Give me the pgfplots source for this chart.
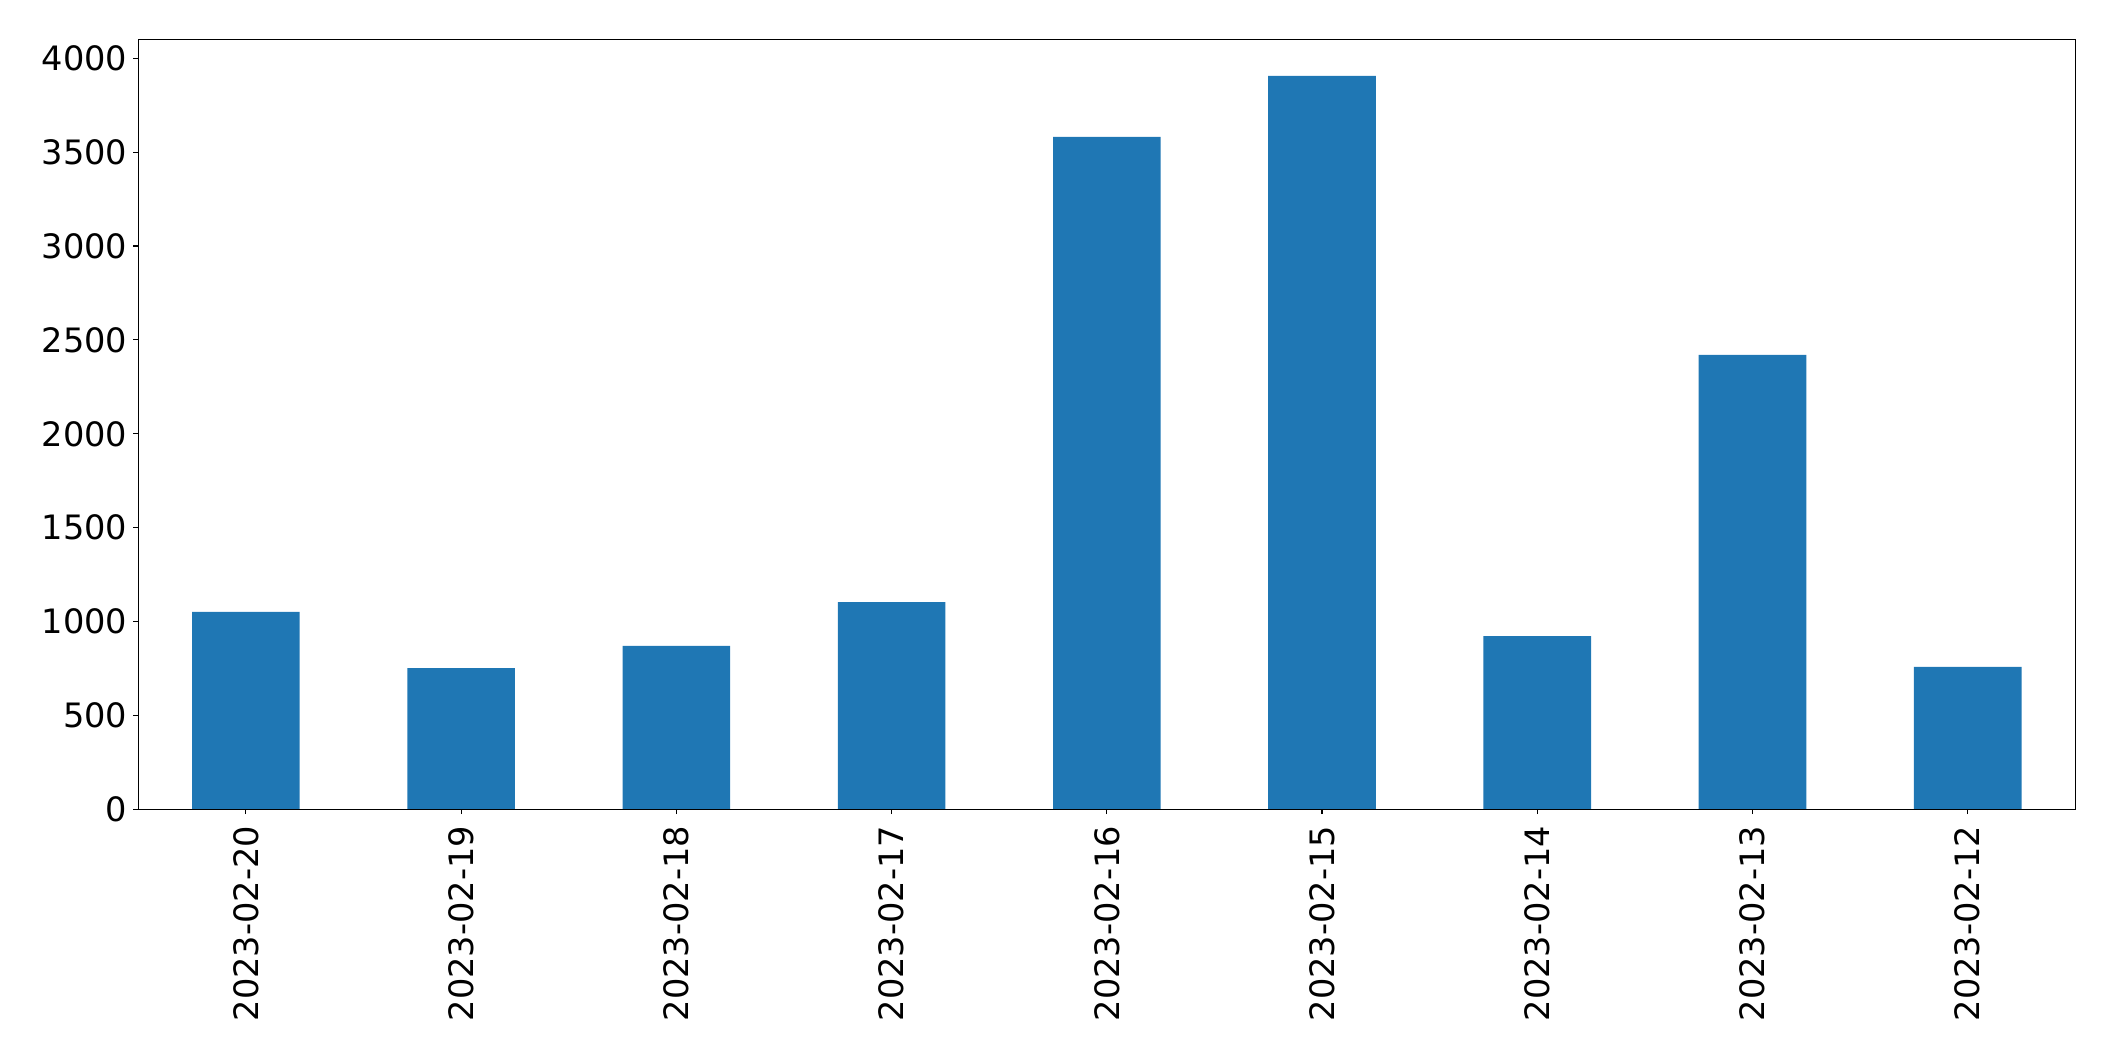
\documentclass[border=0pt]{standalone}
\usepackage{fontspec}
\setmainfont{DejaVu Sans}
\usepackage{pgfplots}
\pgfplotsset{compat=1.18}

\definecolor{mplblue}{HTML}{1F77B4}

\begin{document}
\begin{tikzpicture}
% fixed page box: 2115x1061 px at 0.5pt per px
\path[use as bounding box] (-69.15pt,-125.85pt) rectangle (988.35pt,404.65pt);
\begin{axis}[
    at={(0,0)}, anchor=south west,
    scale only axis,
    width=968.5pt, height=385pt,
    xmin=-0.5, xmax=8.5,
    ymin=0, ymax=4101,
    xtick={0,1,2,3,4,5,6,7,8},
    xticklabels={2023-02-20,2023-02-19,2023-02-18,2023-02-17,2023-02-16,2023-02-15,2023-02-14,2023-02-13,2023-02-12},
    ytick={0,500,1000,1500,2000,2500,3000,3500,4000},
    x tick label style={rotate=90, anchor=east},
    ticklabel style={font=\fontsize{16.8}{20}\selectfont},
    /pgf/number format/assume math mode=true,
    scaled y ticks=false,
    yticklabel style={/pgf/number format/1000 sep={}},
    tick align=outside,
    major tick length=2.43pt,
    xtick pos=bottom, ytick pos=left,
    axis line style={black, line width=0.55pt},
    every tick/.style={black, line width=0.55pt},
    xticklabel shift=2.4pt, yticklabel shift=-0.4pt,
    axis on top,
]
\addplot[ybar, bar width=0.5, fill=mplblue, draw=none]
    coordinates {
    (0,1051)(1,752)(2,870)(3,1104)(4,3581)(5,3906)(6,923)(7,2420)(8,758)
    };
\end{axis}
\end{tikzpicture}
\end{document}
